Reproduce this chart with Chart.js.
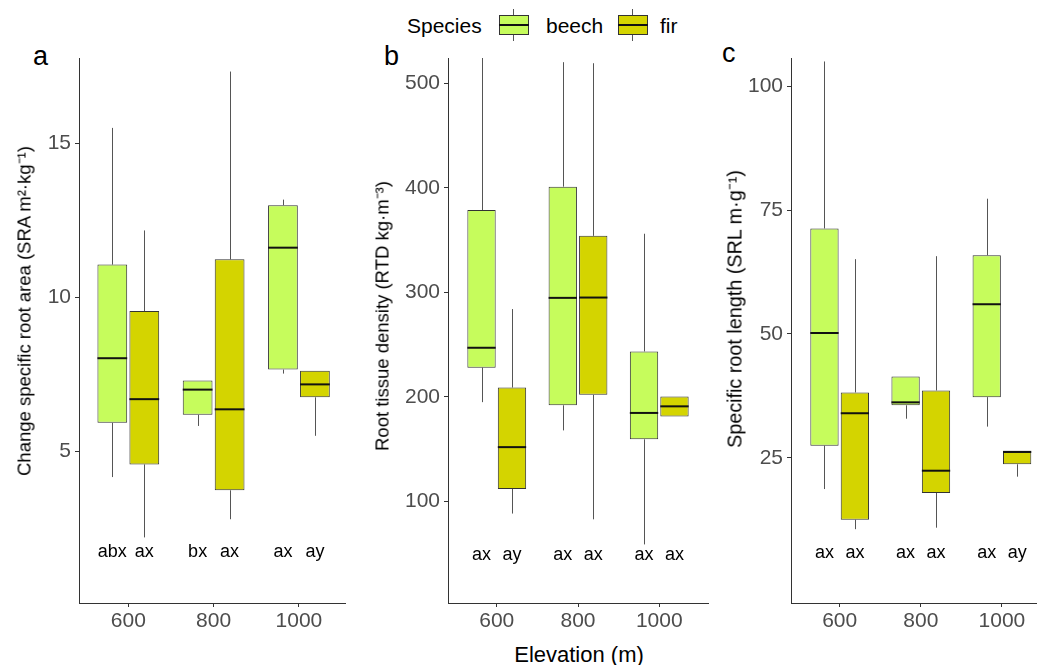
<!DOCTYPE html>
<html>
<head>
<meta charset="utf-8">
<script src="https://cdn.jsdelivr.net/npm/chart.js@4.4.1/dist/chart.umd.min.js"></script>
<style>
  body { margin: 0; background: #fff; width: 1039px; height: 665px; overflow: hidden; position: relative;
         font-family: "Liberation Sans", Arial, sans-serif; }
  .panel { position: absolute; top: 40px; }
  .tag { position: absolute; font-size: 27px; color: #000; line-height: 1; }
  .lg { position: absolute; top: 14px; font-size: 21px; line-height: 24px; color: #000; }
  .key { position: absolute; top: 9px; width: 30px; height: 32px; }
  .key .w { position: absolute; left: 14px; width: 1px; top: 0; bottom: 0; background: #555; }
  .key .b { position: absolute; left: 0; right: 0; top: 6px; bottom: 6px; border: 1px solid #333; box-sizing: border-box; }
  .key .m { position: absolute; left: 0; right: 0; top: 15px; height: 2px; background: #111; }
  .ytitle { position: absolute; white-space: nowrap; color: #000; transform: translate(-50%, -50%) rotate(-90deg); }
  #xtitle { position: absolute; top: 642px; left: 379px; width: 400px; text-align: center; font-size: 22px; color: #000; }
</style>
</head>
<body>
<span class="lg" style="left:407px">Species</span>
<div class="key" style="left:499px"><div class="w"></div><div class="b" style="background:#c6fc5c"></div><div class="m"></div></div>
<span class="lg" style="left:546px">beech</span>
<div class="key" style="left:618px"><div class="w"></div><div class="b" style="background:#d4d400"></div><div class="m"></div></div>
<span class="lg" style="left:660px">fir</span>

<div class="tag" style="left:33px;top:43px">a</div>
<div class="tag" style="left:384px;top:43px">b</div>
<div class="tag" style="left:722px;top:40px">c</div>
<canvas id="cA" class="panel" style="left:0px" width="355" height="600"></canvas>
<canvas id="cB" class="panel" style="left:355px" width="360" height="600"></canvas>
<canvas id="cC" class="panel" style="left:715px" width="324" height="600"></canvas>
<div class="ytitle" style="left:23px;top:311px;font-size:18.5px">Change specific root area (SRA m²·kg⁻¹)</div>
<div class="ytitle" style="left:381px;top:316px;font-size:18.5px">Root tissue density (RTD kg·m⁻³)</div>
<div class="ytitle" style="left:734px;top:309px;font-size:19.8px">Specific root length (SRL m·g⁻¹)</div>
<div id="xtitle">Elevation (m)</div>
<script>
// elevations on the x axis
const elevations = ['600', '800', '1000'];

// five-number summaries per elevation: [whisker low, Q1, median, Q3, whisker high]
const sraBeech = [[4.16, 5.92, 8.02, 11.06, 15.5], [5.82, 6.18, 7.0, 7.30, 7.30], [7.52, 7.65, 11.61, 12.99, 13.17]];
const sraFir   = [[2.2, 4.57, 6.69, 9.55, 12.17], [2.79, 3.73, 6.36, 11.23, 17.33], [5.5, 6.75, 7.17, 7.61, 7.61]];
const rtdBeech = [[195, 228, 247, 378.6, 524], [168, 192, 294.7, 401, 520], [59, 159.5, 184.7, 243.5, 356]];
const rtdFir   = [[88.5, 112, 152, 209, 284], [83, 202, 295, 354, 519], [181.3, 181.3, 191, 200.4, 200.4]];
const srlBeech = [[18.7, 27.45, 50.2, 71.3, 105], [32.9, 35.6, 36.2, 41.4, 41.4], [31.3, 37.25, 56.0, 65.9, 77.3]];
const srlFir   = [[10.6, 12.5, 34.0, 38.2, 65.1], [10.9, 17.9, 22.4, 38.6, 65.7], [21.2, 23.7, 26.2, 26.2, 26.2]];

// significance letters, order: 600 beech, 600 fir, 800 beech, 800 fir, 1000 beech, 1000 fir
const sraLetters = ['abx', 'ax', 'bx', 'ax', 'ax', 'ay'];
const rtdLetters = ['ax', 'ay', 'ax', 'ax', 'ax', 'ax'];
const srlLetters = ['ax', 'ax', 'ax', 'ax', 'ax', 'ay'];
const sraLetterY = 1.72;
const rtdLetterY = 49;
const srlLetterY = 5.7;

// tick values
const sraTicks = [5, 10, 15];
const rtdTicks = [100, 200, 300, 400, 500];
const srlTicks = [25, 50, 75, 100];

const beechColor = '#c6fc5c';
const firColor = '#d4d400';
const tickFont = { family: 'Liberation Sans', size: 21 };

// whiskers behind the boxes, medians and letters on top
const boxParts = {
  id: 'boxParts',
  beforeDatasetsDraw(chart) {
    const ctx = chart.ctx, y = chart.scales.y;
    ctx.save();
    ctx.strokeStyle = '#555';
    ctx.lineWidth = 1;
    chart.data.datasets.forEach((ds, di) => {
      const meta = chart.getDatasetMeta(di);
      ds.stats.forEach((s, i) => {
        const x = Math.round(meta.data[i].x) + 0.5;
        ctx.beginPath();
        ctx.moveTo(x, y.getPixelForValue(s[0]));
        ctx.lineTo(x, y.getPixelForValue(s[1]));
        ctx.moveTo(x, y.getPixelForValue(s[3]));
        ctx.lineTo(x, y.getPixelForValue(s[4]));
        ctx.stroke();
      });
    });
    ctx.restore();
  },
  afterDatasetsDraw(chart) {
    const ctx = chart.ctx, y = chart.scales.y;
    const opts = chart.options.plugins.boxParts;
    ctx.save();
    chart.data.datasets.forEach((ds, di) => {
      const meta = chart.getDatasetMeta(di);
      ds.stats.forEach((s, i) => {
        const bar = meta.data[i];
        const py = y.getPixelForValue(s[2]);
        ctx.strokeStyle = '#111';
        ctx.lineWidth = 2;
        ctx.beginPath();
        ctx.moveTo(bar.x - bar.width / 2, py);
        ctx.lineTo(bar.x + bar.width / 2, py);
        ctx.stroke();
        ctx.fillStyle = '#000';
        ctx.font = '18px "Liberation Sans"';
        ctx.textAlign = 'center';
        ctx.textBaseline = 'middle';
        ctx.fillText(opts.letters[i * 2 + di], bar.x, y.getPixelForValue(opts.letterY));
      });
    });
    ctx.restore();
  }
};

function makePanel(id, beech, fir, letters, letterY, yTicks, yMin, yMax, xMin, xMax, yWidth, padRight) {
  const toBars = arr => arr.map((s, i) => ({ x: i, y: [s[1], s[3]] }));
  return new Chart(document.getElementById(id), {
    type: 'bar',
    data: {
      datasets: [
        { label: 'beech', data: toBars(beech), stats: beech, backgroundColor: beechColor, borderColor: '#333', borderWidth: 1, borderSkipped: false },
        { label: 'fir', data: toBars(fir), stats: fir, backgroundColor: firColor, borderColor: '#333', borderWidth: 1, borderSkipped: false }
      ]
    },
    options: {
      responsive: false,
      animation: false,
      categoryPercentage: 0.75,
      barPercentage: 0.93,
      layout: { padding: { top: 18, right: padRight, left: 0, bottom: 0 }, autoPadding: false },
      plugins: {
        legend: { display: false },
        tooltip: { enabled: false },
        boxParts: { letters: letters, letterY: letterY }
      },
      scales: {
        x: {
          type: 'linear', min: xMin, max: xMax, offset: false,
          afterBuildTicks: sc => { sc.ticks = elevations.map((e, i) => ({ value: i })); },
          afterFit: sc => { sc.height = 37; },
          ticks: { callback: v => elevations[v], color: '#4d4d4d', font: tickFont, padding: 2, maxRotation: 0 },
          grid: { display: true, drawOnChartArea: false, drawTicks: true, tickLength: 4, color: '#333', offset: false },
          border: { display: true, color: '#333', width: 1 }
        },
        y: {
          min: yMin, max: yMax,
          afterBuildTicks: sc => { sc.ticks = yTicks.map(v => ({ value: v })); },
          afterFit: sc => { sc.width = yWidth; },
          ticks: { color: '#4d4d4d', font: tickFont, padding: 4 },
          grid: { display: true, drawOnChartArea: false, drawTicks: true, tickLength: 4, color: '#333' },
          border: { display: true, color: '#333', width: 1 }
        }
      }
    },
    plugins: [boxParts]
  });
}

makePanel('cA', sraBeech, sraFir, sraLetters, sraLetterY, sraTicks, 0.07, 17.77, -0.578, 2.54, 79, 10);
makePanel('cB', rtdBeech, rtdFir, rtdLetters, rtdLetterY, rtdTicks, 3, 524, -0.6, 2.6, 93, 7);
makePanel('cC', srlBeech, srlFir, srlLetters, srlLetterY, srlTicks, -4.3, 105.7, -0.6, 2.42, 76, 3);
</script>
</body>
</html>
